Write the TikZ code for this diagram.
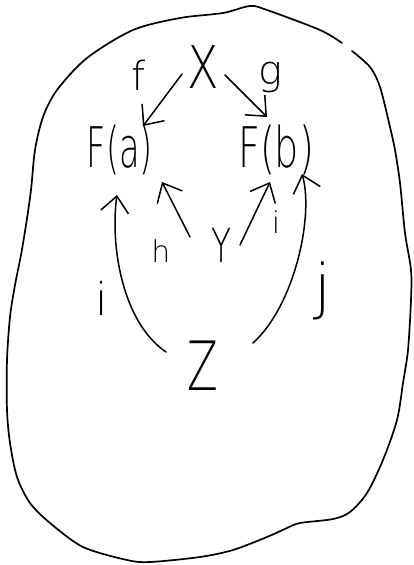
\documentclass[tikz,border=0pt]{standalone}
\usepackage{fontspec}
\newfontfamily\hand{DejaVu Sans ExtraLight}
\usetikzlibrary{arrows.meta,calc}
\newcommand\hwtext[3]{\scalebox{#2}[1]{\fontsize{#1}{#1}\selectfont\hand #3}}
\begin{document}
\begin{tikzpicture}[x=1pt,y=-1pt, line width=1.5pt, line cap=round, line join=round,
  arr/.style={-{Straight Barb[length=16pt,width=28pt]}},
  lab/.style={inner sep=0pt}]
\useasboundingbox (0,0) rectangle (413,565);
% outline
\draw[line width=1.7pt] plot[smooth, tension=0.5] coordinates {
 (352,51) (370,67) (380,87) (390,127) (395,150) (400,183) (405,233) (411,270)
 (411,300) (408,350) (403,383) (397,420) (383,460) (367,493) (350,512) (333,519)
 (300,523) (287,528) (267,537) (233,550) (200,557) (150,562) (127,560) (83,547)
 (50,523) (30,503) (17,477) (10,443) (7,410) (7,360) (10,317) (15,285) (21,255)
 (26,225) (31,190) (35,150) (43,117) (57,90) (87,58) (133,30) (180,18) (223,13)
 (250,6) (267,10) (320,30) (342,43)};
% objects
\node[lab] (X)  at (203,67)  {\hwtext{59}{0.78}{X}};
\node[lab] (Fa) at (120,150) {\hwtext{56}{0.6}{F(a)}};
\node[lab] (Fb) at (276,150) {\hwtext{56}{0.68}{F(b)}};
\node[lab] (Y)  at (222,245) {\hwtext{47}{0.7}{Y}};
\node[lab] (Z)  at (203,366) {\hwtext{68}{0.66}{Z}};
% labels
\node[lab] (lf) at (139,75)  {\hwtext{40}{1}{f}};
\node[lab] (lg) at (270,77)  {\hwtext{40}{1}{g}};
\node[lab] (lh) at (161,251) {\hwtext{30}{1}{h}};
\node[lab] (li) at (276,222) {\hwtext{30}{1}{i}};
\node[lab] (lii) at (102,298) {\hwtext{45}{1}{i}};
\node[lab] (lj) at (323,291) {\hwtext{60}{1}{j}};
% arrows
\draw[arr] ($(X)+(-21,7)$) -- ($(Fa)+(23,-24)$);
\draw[arr] ($(X)+(22,8)$) -- ($(Fb)+(-9,-33)$);
\draw[arr] ($(Y)+(-32,-8)$) -- ($(Fa)+(42,32)$);
\draw[arr] ($(Y)+(18,0)$) -- ($(Fb)+(-6,32)$);
\draw[arr] ($(Z)+(-37,-14)$) .. controls (122,322) and (110,245) .. ($(Fa)+(-3,45)$);
\draw[arr] ($(Z)+(50,-23)$) .. controls (295,305) and (314,215) .. ($(Fb)+(26,24)$);
\end{tikzpicture}
\end{document}
